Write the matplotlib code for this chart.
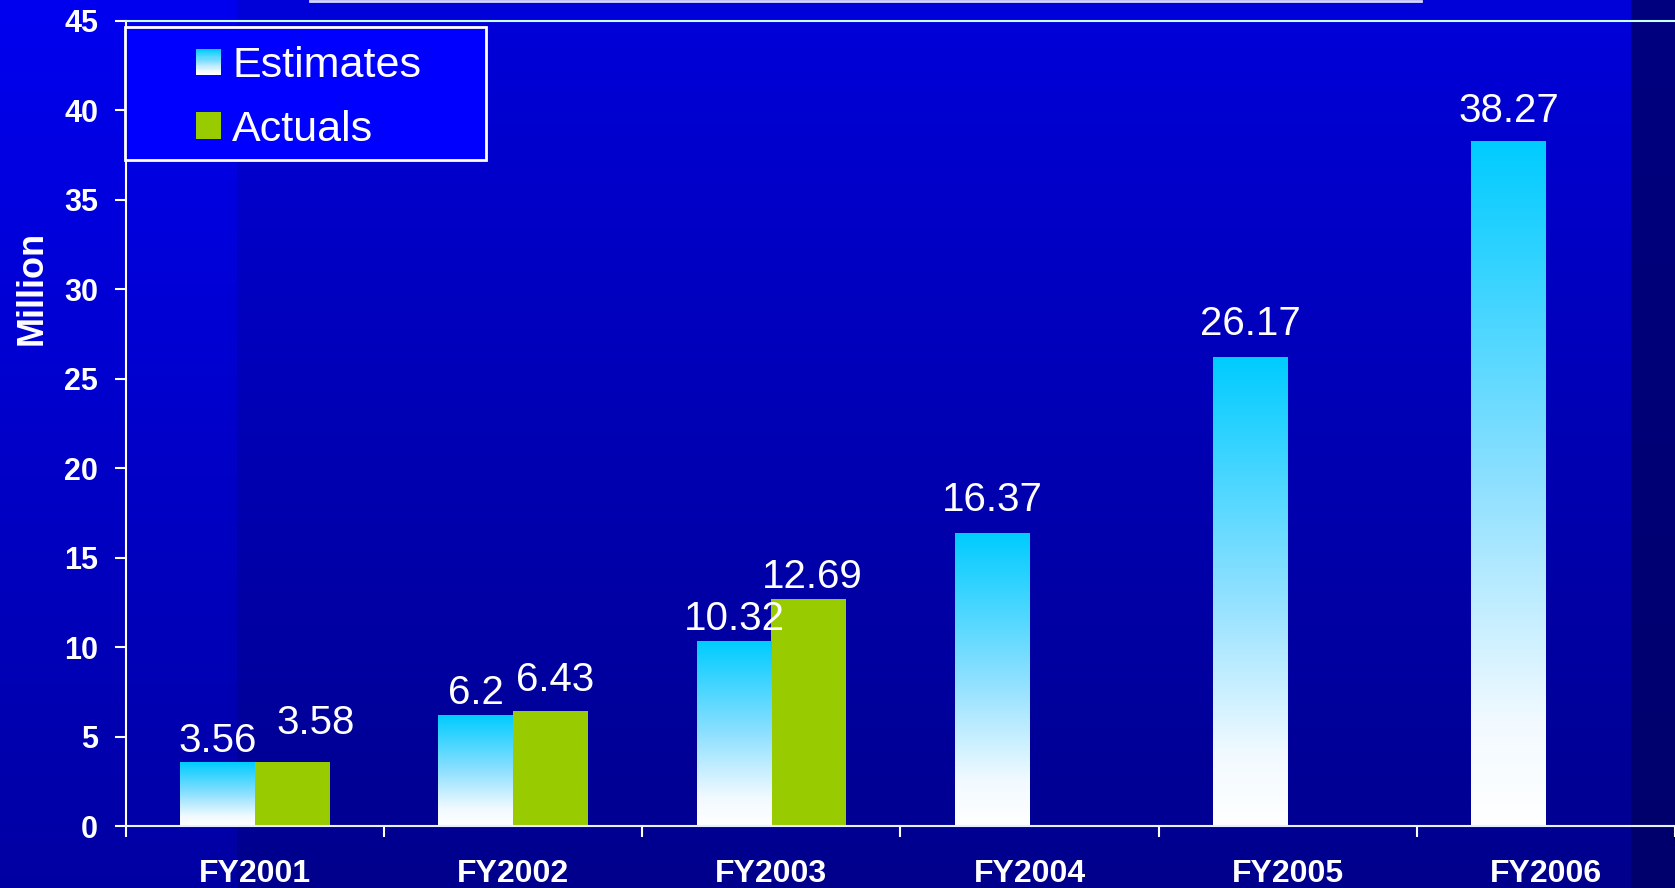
import matplotlib
matplotlib.use("Agg")
import matplotlib.pyplot as plt
import numpy as np
from matplotlib.colors import LinearSegmentedColormap
from matplotlib.legend_handler import HandlerBase
from matplotlib.lines import Line2D
from matplotlib.patches import Patch, Rectangle

plt.rcParams['font.family'] = ['Liberation Sans', 'DejaVu Sans']

categories = ["FY2001", "FY2002", "FY2003", "FY2004", "FY2005", "FY2006"]
estimates = [3.56, 6.2, 10.32, 16.37, 26.17, 38.27]
actuals = [3.58, 6.43, 12.69]
y_ticks = list(range(0, 50, 5))

W, H = 1675, 888
PX = 0.72  # points per pixel at dpi 100
est_cmap = LinearSegmentedColormap.from_list(
    "est", [(0.0, "#ffffff"), (0.15, "#f2faff"), (0.5, "#8ee0ff"), (1.0, "#00ccff")])
act_color = "#99cc00"

# label placement (pixels above the bar top, and sideways nudge)
est_label_gap = [10, 11, 11, 22, 23, 19]
act_label_nudge = [(23, 28), (4, 20), (3, 11)]


class GradientHandler(HandlerBase):
    # legend key drawn as a stack of thin strips (white -> cyan)
    def create_artists(self, legend, orig_handle, xdescent, ydescent,
                       width, height, fontsize, trans):
        n = 24
        arts = []
        for i in range(n):
            r = Rectangle((-xdescent, -ydescent + height * i / n), width,
                          height / n * 1.05, facecolor=est_cmap(i / (n - 1)),
                          edgecolor='none', transform=trans)
            arts.append(r)
        return arts


fig = plt.figure(figsize=(W / 100, H / 100), dpi=100)

# background: stepped blue gradient
yy, xx = np.mgrid[0:H, 0:W]
yf = yy / H
blue = 218 - 78 * yf
blue = np.where(xx < 237, blue + 22, blue)
blue = np.where(xx > 1630, 128 - 20 * yf, blue)
img = np.zeros((H, W, 3))
img[..., 2] = np.clip(blue, 0, 255) / 255
bg = fig.add_axes([0, 0, 1, 1])
bg.imshow(img, aspect='auto', extent=[0, 1, 0, 1], origin='upper')
bg.axis('off')

# remains of the title box at the top edge
fig.add_artist(Line2D([310 / W, 1421 / W], [1 - 1.5 / H] * 2, color="#d8d8ff",
                      lw=2, transform=fig.transFigure))

ax = fig.add_axes([126 / W, 1 - 826 / H, 1 - 126 / W, (826 - 21) / H])
ax.patch.set_alpha(0)

x = np.arange(len(categories))
w = 0.29
est_bars = ax.bar(x - w / 2, estimates, width=w, facecolor='none',
                  edgecolor='none', zorder=2)
act_bars = ax.bar(x[:len(actuals)] + w / 2, actuals, width=w,
                  color=act_color, zorder=2)

grad = np.linspace(0, 1, 256).reshape(-1, 1)
for b in est_bars:
    ax.imshow(grad, extent=[b.get_x(), b.get_x() + b.get_width(), 0, b.get_height()],
              aspect='auto', cmap=est_cmap, origin='lower', zorder=2)

for b, v, gap in zip(est_bars, estimates, est_label_gap):
    ax.annotate(f"{v:g}", (b.get_x() + b.get_width() / 2, v),
                xytext=(0, gap * PX), textcoords='offset points',
                ha='center', va='baseline', fontsize=29, color='white', zorder=3)
for b, v, (dx, dy) in zip(act_bars, actuals, act_label_nudge):
    ax.annotate(f"{v:g}", (b.get_x() + b.get_width() / 2, v),
                xytext=(dx * PX, dy * PX), textcoords='offset points',
                ha='center', va='baseline', fontsize=29, color='white', zorder=3)

ax.set_xlim(-0.5, len(categories) - 0.5)
ax.set_ylim(0, 45)

ax.set_yticks(y_ticks)
ax.set_yticklabels([str(t) for t in y_ticks], fontsize=22, fontweight='bold',
                   color='white')
ax.tick_params(axis='y', length=8, width=1.5, color='white', pad=12)

ax.set_xticks(x)
ax.set_xticklabels(categories, fontsize=23, fontweight='bold', color='white')
ax.set_xticks(np.arange(len(categories) + 1) - 0.5, minor=True)
ax.tick_params(axis='x', which='major', length=0, pad=24)
ax.tick_params(axis='x', which='minor', length=8, width=1.5, color='white')

ax.spines['right'].set_visible(False)
ax.spines['top'].set_color('#c8ffff')
ax.spines['left'].set_color('white')
ax.spines['bottom'].set_color('#e8f0ff')
for s in ['top', 'left', 'bottom']:
    ax.spines[s].set_linewidth(1.5)

ax.set_ylabel("Million", fontsize=26, fontweight='bold', color='white')
ax.yaxis.set_label_coords(-0.049, 0.668)

# legend box
fig.add_artist(Rectangle((125 / W, 1 - 160 / H), 361 / W, 133 / H,
                         facecolor='#0000ff', edgecolor='white', lw=2,
                         transform=fig.transFigure, zorder=3))
est_proxy = Rectangle((0, 0), 1, 1)
act_proxy = Patch(facecolor=act_color)
leg = fig.legend([est_proxy, act_proxy], ["Estimates", "Actuals"],
                 handler_map={est_proxy: GradientHandler()},
                 loc='center left', bbox_to_anchor=(196 / W, 1 - 98 / H),
                 frameon=False, fontsize=31, labelcolor='white',
                 handlelength=0.58, handleheight=0.58, handletextpad=0.26,
                 labelspacing=0.55, borderpad=0, borderaxespad=0)
leg.set_zorder(4)

fig.savefig("out.png", dpi=100)
